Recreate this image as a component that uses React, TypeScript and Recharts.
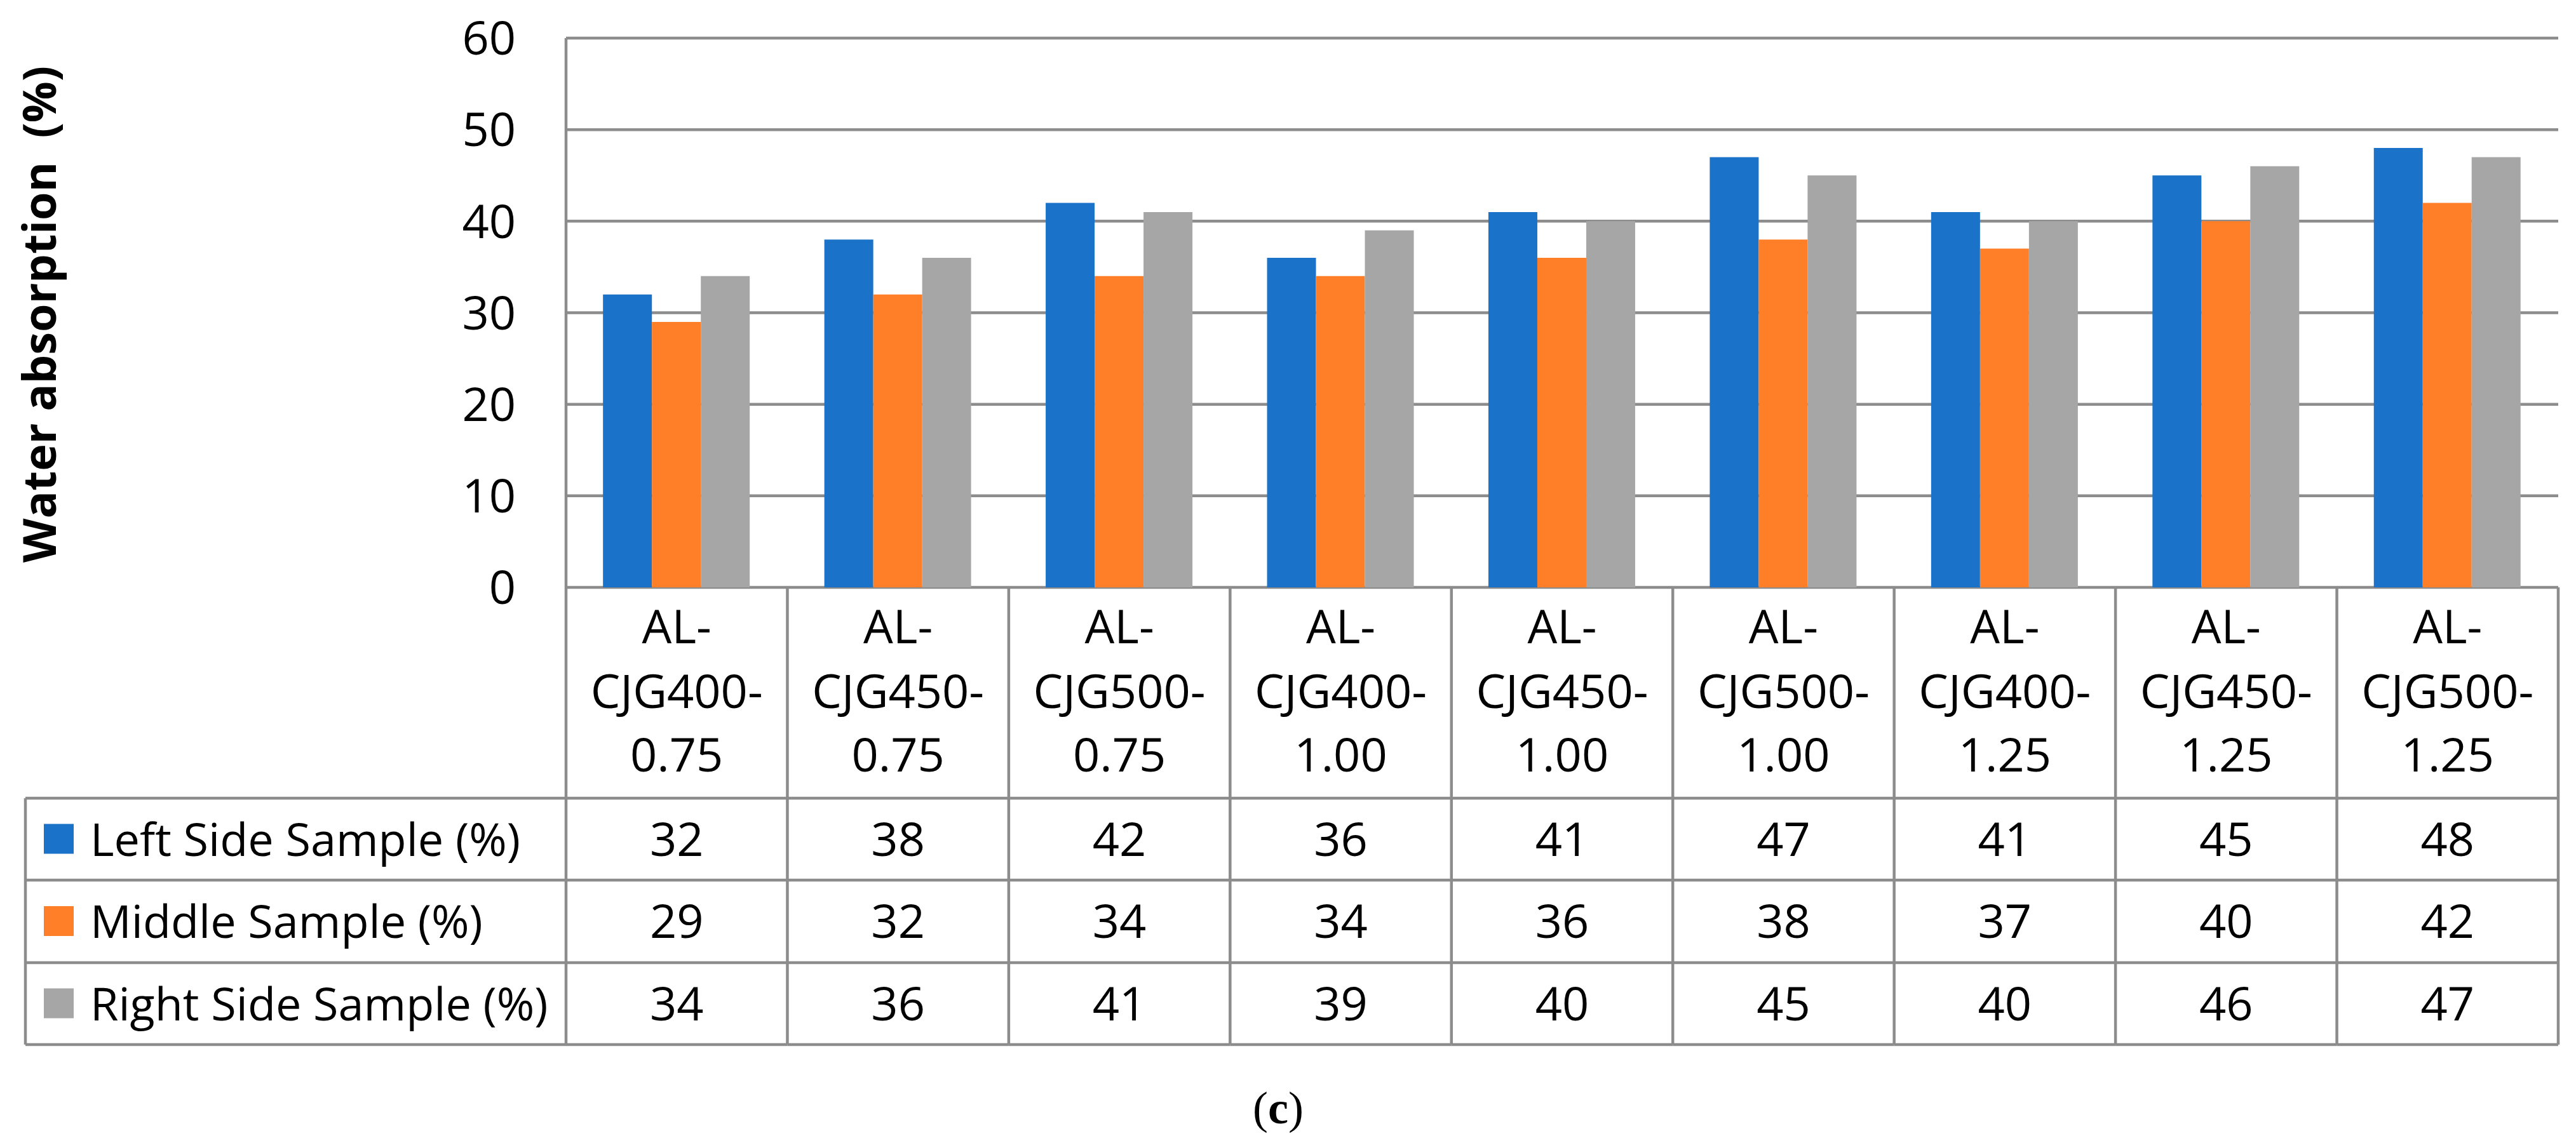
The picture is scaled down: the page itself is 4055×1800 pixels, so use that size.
import React from "react"
import { Bar, BarChart, CartesianGrid, XAxis, YAxis } from "recharts"

const categories = [
    "AL-CJG400-0.75",
    "AL-CJG450-0.75",
    "AL-CJG500-0.75",
    "AL-CJG400-1.00",
    "AL-CJG450-1.00",
    "AL-CJG500-1.00",
    "AL-CJG400-1.25",
    "AL-CJG450-1.25",
    "AL-CJG500-1.25",
]
const leftSide = [32, 38, 42, 36, 41, 47, 41, 45, 48]
const middle = [29, 32, 34, 34, 36, 38, 37, 40, 42]
const rightSide = [34, 36, 41, 39, 40, 45, 40, 46, 47]
const yTicks = [0, 10, 20, 30, 40, 50, 60]

const seriesList = [
    { key: "left", name: "Left Side Sample (%)", color: "#1a73c8", values: leftSide },
    { key: "middle", name: "Middle Sample (%)", color: "#fe7f28", values: middle },
    { key: "right", name: "Right Side Sample (%)", color: "#a6a6a6", values: rightSide },
]

const data = categories.map((c, i) => ({
    name: c,
    left: leftSide[i],
    middle: middle[i],
    right: rightSide[i],
}))

// layout
const W = 4055
const H = 1800
const PLOT_LEFT = 891
const PLOT_RIGHT = 4027
const PLOT_TOP = 60
const PLOT_BOTTOM = 925
const TABLE_LEFT = 40
const ROW_LINES = [1257, 1386, 1516, 1645]
const Y_AXIS_W = 300
const BAND = (PLOT_RIGHT - PLOT_LEFT) / categories.length
const LINE = "#8c8c8c"
const LW = 4.5
const FONT = "'Open Sans', sans-serif"
const FS = 74

// split "AL-CJG400-0.75" into lines keeping the hyphens
const splitLabel = (s: string) => {
    const parts = s.split("-")
    return parts.map((p, i) => (i < parts.length - 1 ? p + "-" : p))
}

function TableTick(props: any) {
    const { x, payload, index } = props
    const lines = splitLabel(String(payload.value))
    const x0 = x - BAND / 2
    const x1 = x + BAND / 2
    const headerBase = [1013, 1115, 1215]
    return (
        <g>
            {/* right border of column */}
            <line x1={x1} y1={PLOT_BOTTOM} x2={x1} y2={ROW_LINES[3]} stroke={LINE} strokeWidth={LW} />
            {ROW_LINES.map((ly) => (
                <line key={ly} x1={x0} y1={ly} x2={x1} y2={ly} stroke={LINE} strokeWidth={LW} />
            ))}
            {lines.map((l, i) => (
                <text key={i} x={x} y={headerBase[i]} textAnchor="middle" fontFamily={FONT} fontSize={FS} fill="#000">
                    {l}
                </text>
            ))}
            {seriesList.map((s, r) => (
                <text
                    key={s.key}
                    x={x}
                    y={(ROW_LINES[r] + ROW_LINES[r + 1]) / 2 + 26}
                    textAnchor="middle"
                    fontFamily={FONT}
                    fontSize={FS}
                    fill="#000"
                >
                    {s.values[index]}
                </text>
            ))}
            {index === 0 && (
                <g>
                    <line x1={PLOT_LEFT} y1={PLOT_BOTTOM} x2={PLOT_LEFT} y2={ROW_LINES[3]} stroke={LINE} strokeWidth={LW} />
                    <line x1={TABLE_LEFT} y1={ROW_LINES[0]} x2={TABLE_LEFT} y2={ROW_LINES[3]} stroke={LINE} strokeWidth={LW} />
                    {ROW_LINES.map((ly) => (
                        <line key={ly} x1={TABLE_LEFT} y1={ly} x2={PLOT_LEFT} y2={ly} stroke={LINE} strokeWidth={LW} />
                    ))}
                    {seriesList.map((s, r) => {
                        const cy = (ROW_LINES[r] + ROW_LINES[r + 1]) / 2
                        return (
                            <g key={s.key}>
                                <rect x={69} y={cy - 24} width={47} height={47} fill={s.color} />
                                <text x={142} y={cy + 26} fontFamily={FONT} fontSize={72} fill="#000">
                                    {s.name}
                                </text>
                            </g>
                        )
                    })}
                </g>
            )}
        </g>
    )
}

const YTitle = () => (
    <text
        x={60}
        y={495}
        transform="rotate(-90 60 495)"
        textAnchor="middle"
        dominantBaseline="central"
        fontFamily={FONT}
        fontSize={72}
        fontWeight="bold"
        fill="#000"
        style={{ whiteSpace: "pre" }}
    >
        {"Water absorption  (%)"}
    </text>
)

export default function App() {
    return (
        <div style={{ position: "absolute", left: 0, top: 0, width: W, height: H, background: "#fff" }}>
            <BarChart
                width={W}
                height={H}
                data={data}
                margin={{ top: PLOT_TOP, right: W - PLOT_RIGHT, left: PLOT_LEFT - Y_AXIS_W, bottom: H - ROW_LINES[3] }}
                barCategoryGap="16.7%"
                barGap={0}
            >
                <CartesianGrid vertical={false} stroke={LINE} strokeWidth={LW} />
                <XAxis
                    dataKey="name"
                    height={ROW_LINES[3] - PLOT_BOTTOM}
                    interval={0}
                    axisLine={false}
                    tickLine={false}
                    tick={<TableTick />}
                />
                <YAxis
                    width={Y_AXIS_W}
                    domain={[0, 60]}
                    ticks={yTicks}
                    interval={0}
                    tickLine={false}
                    tickSize={0}
                    tickMargin={79}
                    axisLine={{ stroke: LINE, strokeWidth: LW }}
                    tick={{ fontFamily: FONT, fontSize: FS, fill: "#000" }}
                    label={{ content: () => <YTitle /> }}
                />
                {seriesList.map((s) => (
                    <Bar key={s.key} dataKey={s.key} name={s.name} fill={s.color} isAnimationActive={false} />
                ))}
            </BarChart>
            <div
                style={{
                    position: "absolute",
                    left: 0,
                    width: 4024,
                    top: 1700,
                    textAlign: "center",
                    fontFamily: "'Liberation Serif', 'Times New Roman', serif",
                    fontSize: 72,
                    lineHeight: "90px",
                    color: "#000",
                }}
            >
                (<b>c</b>)
            </div>
        </div>
    )
}
